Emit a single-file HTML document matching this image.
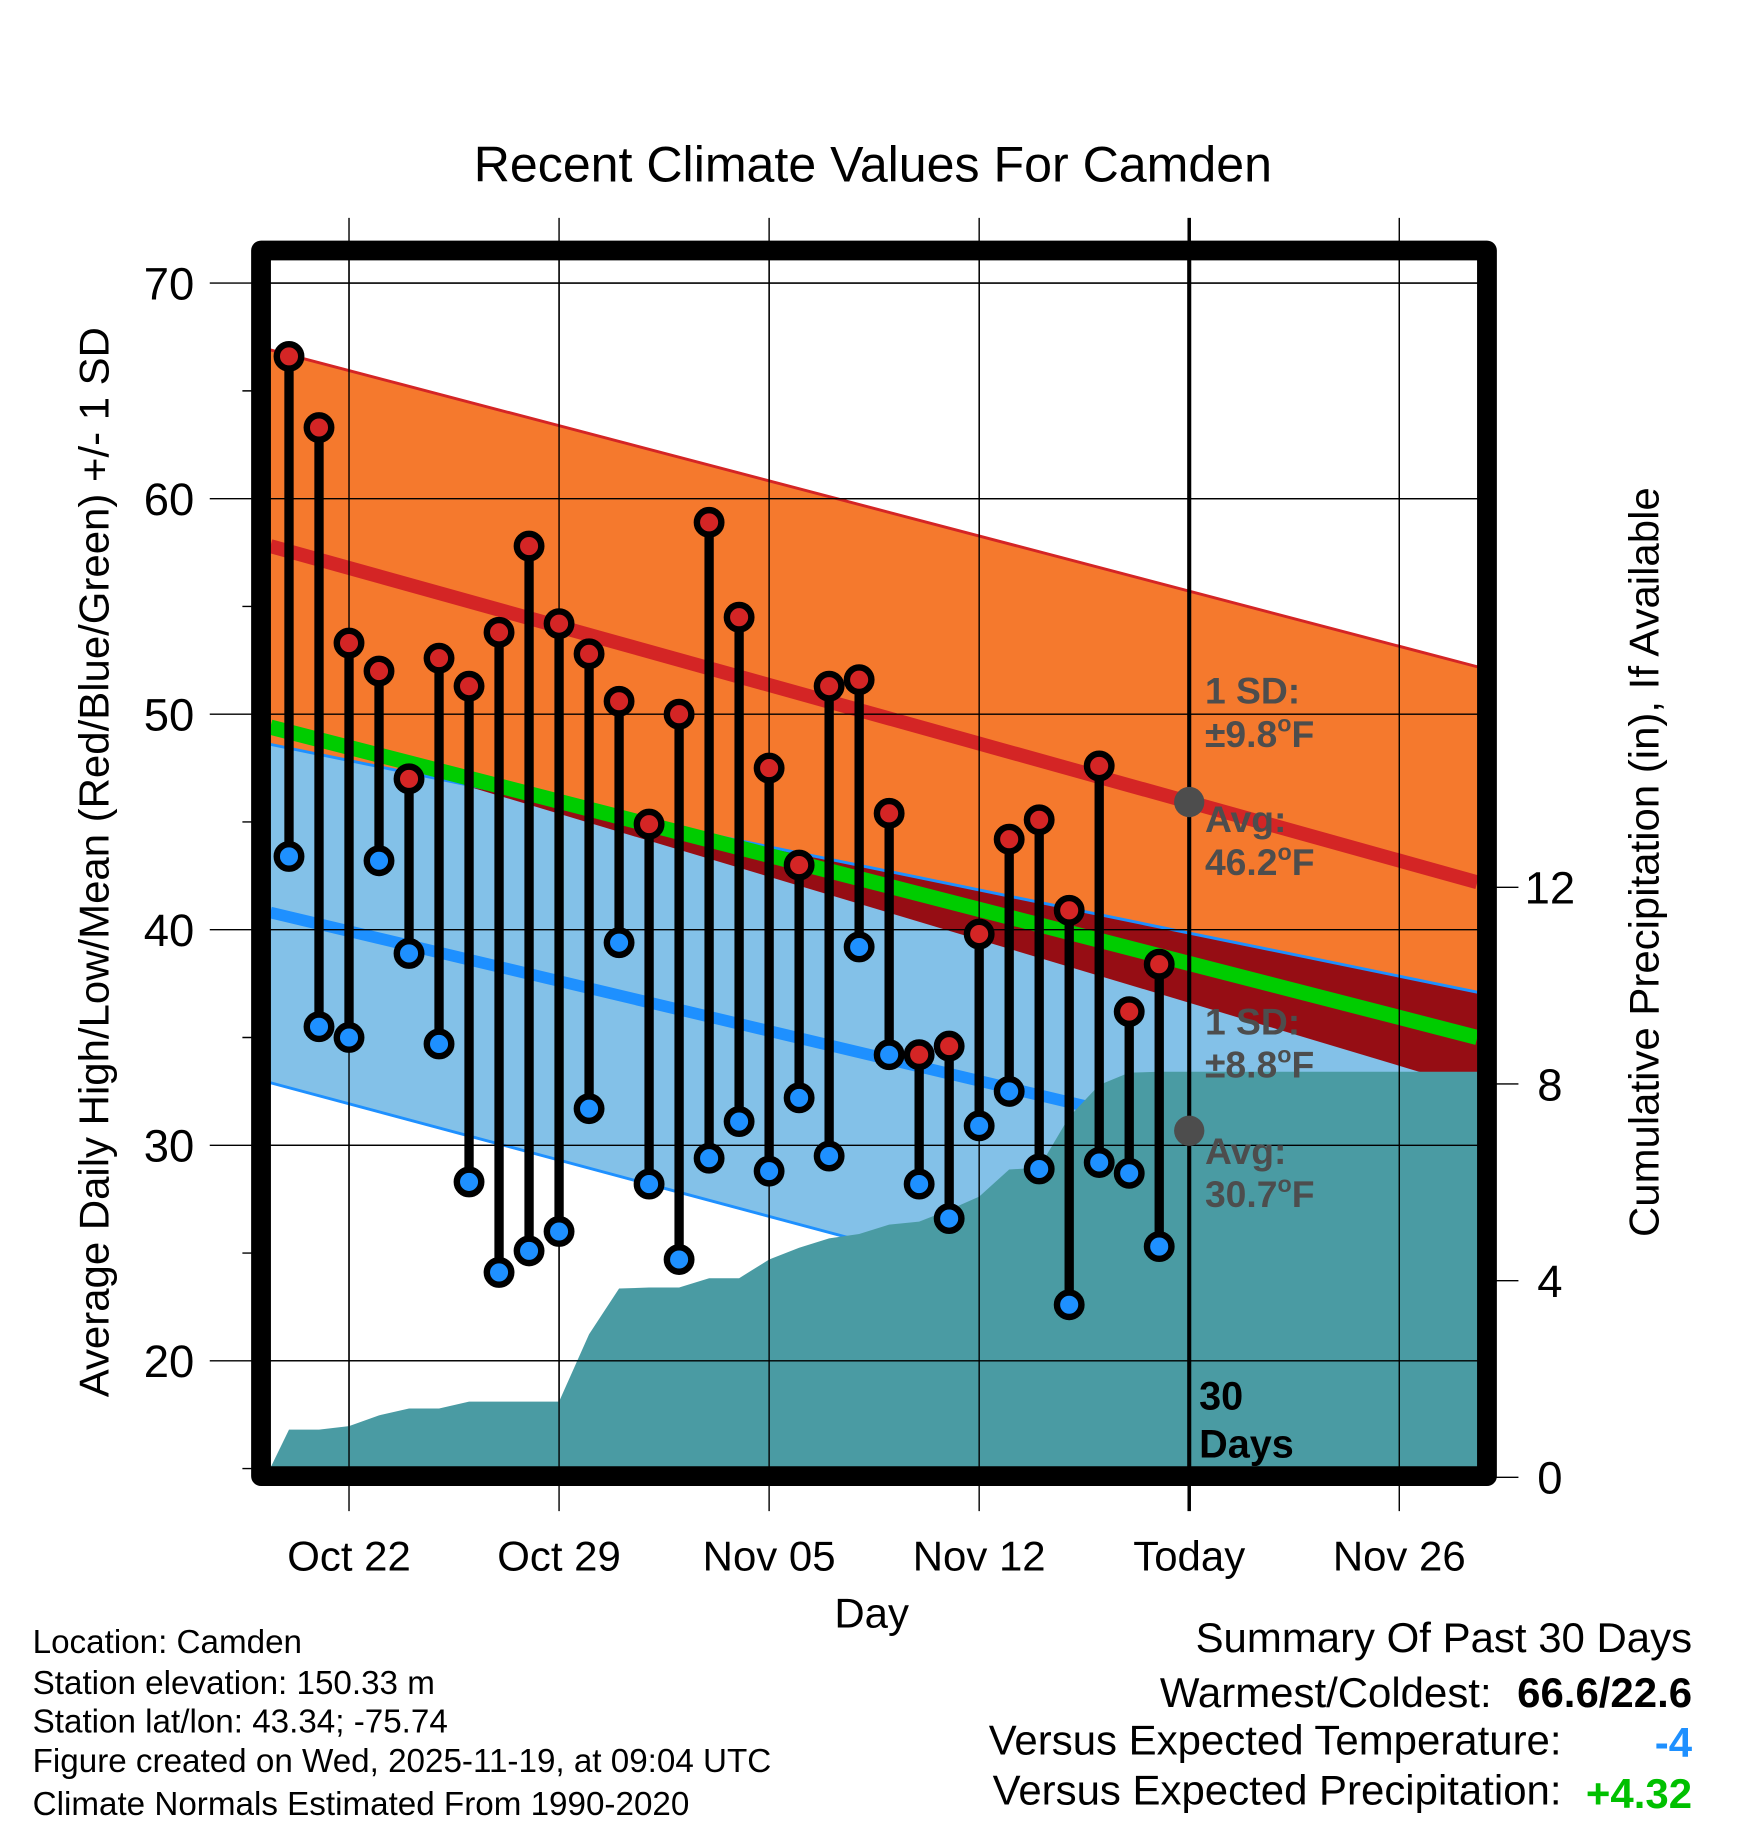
<!DOCTYPE html>
<html><head><meta charset="utf-8"><style>
html,body{margin:0;padding:0;background:#fff}
svg{display:block}
text{font-family:"Liberation Sans",sans-serif}
</style></head><body>
<svg id="chart" width="1748" height="1828" viewBox="0 0 1500 1569" preserveAspectRatio="none" xmlns="http://www.w3.org/2000/svg">
<defs><clipPath id="plotclip"><rect x="232" y="223" width="1036" height="1036"/></clipPath></defs>
<g id="grid"></g>
<g id="bands" clip-path="url(#plotclip)"></g>
<g id="gridover"></g>
<g id="marks"></g>
<g id="labels"></g>
</svg>
<script>
const dayLabels=["Oct 22","Oct 29","Nov 05","Nov 12","Today","Nov 26"];
const dayTicks=[2,9,16,23,30,37];
const yTicks=[20,30,40,50,60,70];
const pTicks=[0,4,8,12];
const highs=[66.6,63.3,53.3,52.0,47.0,52.6,51.3,53.8,57.8,54.2,52.8,50.6,44.9,50.0,58.9,54.5,47.5,43.0,51.3,51.6,45.4,34.2,34.6,39.8,44.2,45.1,40.9,47.6,36.2,38.4];
const lows=[43.4,35.5,35.0,43.2,38.9,34.7,28.3,24.1,25.1,26.0,31.7,39.4,28.2,24.7,29.4,31.1,28.8,32.2,29.5,39.2,34.2,28.2,26.6,30.9,32.5,28.9,22.6,29.2,28.7,25.3];
const precip=[0.97,0.97,1.04,1.26,1.40,1.40,1.54,1.54,1.54,1.54,2.91,3.84,3.86,3.86,4.05,4.05,4.43,4.67,4.86,4.95,5.14,5.20,5.44,5.71,6.26,6.30,7.33,7.98,8.23,8.25];
const normDays=[-0.62,39.6];
const avgHigh=[57.8,42.2];
const hiUpper=[66.9,52.2];
const hiLowerEdge=[49.4,32.6];
const avgLow=[40.8,27.5];
const loUpper=[48.6,37.1];
const loLower=[32.9,17.9];
const meanT=[49.4,35.0];

const NS="http://www.w3.org/2000/svg";
const X=d=>248+25.75*d;
const Y=v=>243+(70-v)*18.5;
const P=p=>Math.min(1259,1268-42.2*p);
function mk(parent,tag,attrs){const e=document.createElementNS(NS,tag);for(const k in attrs)e.setAttribute(k,attrs[k]);document.getElementById(parent).appendChild(e);return e;}
function lerp(arr,d){const t=(d-normDays[0])/(normDays[1]-normDays[0]);return arr[0]+(arr[1]-arr[0])*t;}
function line(arr){return normDays.map((d,i)=>X(d)+","+Y(arr[i])).join(" ");}

dayTicks.forEach((d,i)=>{
 let e=mk('grid','line',{x1:X(d),x2:X(d),y1:187,y2:1297,stroke:'#000','stroke-width':i==4?3:1.2});
 
});
yTicks.forEach(v=>{
 let e=mk('grid','line',{x1:180,x2:1268,y1:Y(v),y2:Y(v),stroke:'#000','stroke-width':1.2});
 
});
for(let v=15;v<=65;v+=10){let e=mk('grid','line',{x1:208,x2:222,y1:Y(v),y2:Y(v),stroke:'#000','stroke-width':1.2});}
pTicks.forEach(p=>{let e=mk('grid','line',{x1:1276,x2:1303,y1:1268-42.2*p,y2:1268-42.2*p,stroke:'#000','stroke-width':1.2});});

const d0=normDays[0],d1=normDays[1];
let e;
e=mk('bands','polygon',{points:`${X(d0)},${Y(hiUpper[0])} ${X(d1)},${Y(hiUpper[1])} ${X(d1)},${Y(loUpper[1])} ${X(d0)},${Y(loUpper[0])}`,fill:'#f5792d'});

e=mk('bands','polygon',{points:`${X(d0)},${Y(loUpper[0])} ${X(d1)},${Y(loUpper[1])} ${X(d1)},${Y(loLower[1])} ${X(d0)},${Y(loLower[0])}`,fill:'#83c1e8'});

const diff0=hiLowerEdge[0]-loUpper[0],diff1=hiLowerEdge[1]-loUpper[1];
const tc=diff0/(diff0-diff1);const dc=d0+(d1-d0)*tc;
e=mk('bands','polygon',{points:`${X(dc)},${Y(lerp(loUpper,dc))} ${X(d1)},${Y(loUpper[1])} ${X(d1)},${Y(hiLowerEdge[1])}`,fill:'#960d14'});

e=mk('bands','polyline',{points:line(hiUpper),stroke:'#d42525','stroke-width':2.5,fill:'none'});

e=mk('bands','polyline',{points:line(loUpper),stroke:'#1e90ff','stroke-width':2.5,fill:'none'});

e=mk('bands','polyline',{points:line(loLower),stroke:'#1e90ff','stroke-width':2.5,fill:'none'});

e=mk('bands','polyline',{points:line(meanT),stroke:'#00cc00','stroke-width':13,fill:'none'});

e=mk('bands','polyline',{points:line(avgHigh),stroke:'#d42525','stroke-width':12,fill:'none'});

e=mk('bands','polyline',{points:line(avgLow),stroke:'#1e90ff','stroke-width':10,fill:'none'});

let pts=`232,1260 `+precip.map((p,i)=>X(i)+","+P(p)).join(" ")+` 1268,${P(precip[precip.length-1])} 1268,1260`;
e=mk('bands','polygon',{points:pts,fill:'#4a9ba3'});


dayTicks.forEach((d,i)=>{if(i==4)return;let g=mk('gridover','line',{x1:X(d),x2:X(d),y1:223,y2:1259,stroke:'#000','stroke-width':1.2});});
yTicks.forEach(v=>{let g=mk('gridover','line',{x1:232,x2:1268,y1:Y(v),y2:Y(v),stroke:'#000','stroke-width':1.2});});
e=mk('gridover','line',{x1:X(30),x2:X(30),y1:223,y2:1262,stroke:'#000','stroke-width':3.5});


highs.forEach((h,i)=>{
 let s=mk('marks','line',{x1:X(i),x2:X(i),y1:Y(h),y2:Y(lows[i]),stroke:'#000','stroke-width':8});
 
});
highs.forEach((h,i)=>{
 let c=mk('marks','circle',{cx:X(i),cy:Y(h),r:10.5,fill:'#d42525',stroke:'#000','stroke-width':5.5});
 
 let c2=mk('marks','circle',{cx:X(i),cy:Y(lows[i]),r:10.5,fill:'#1e90ff',stroke:'#000','stroke-width':5.5});
 
});
e=mk('marks','circle',{cx:X(30),cy:Y(lerp(avgHigh,30)),r:13,fill:'#4d4d4d'});

e=mk('marks','circle',{cx:X(30),cy:Y(lerp(avgLow,30)),r:13,fill:'#4d4d4d'});

e=mk('marks','rect',{x:224,y:215,width:1052,height:1052,fill:'none',stroke:'#000','stroke-width':17,'stroke-linejoin':'round'});


function txt(x,y,s,attrs,name){const t=mk('labels','text',Object.assign({x:x,y:y},attrs));t.textContent=s;return t;}
yTicks.forEach(v=>txt(145,Y(v)+14,String(v),{'font-size':39,'text-anchor':'middle'},'y-tick-label'));
pTicks.forEach(p=>txt(1330,1268-42.2*p+14,String(p),{'font-size':39,'text-anchor':'middle'},'precip-tick-label'));
dayTicks.forEach((d,i)=>txt(X(d),1348,dayLabels[i],{'font-size':36,'text-anchor':'middle'},'x-tick-label'));
</script>
<script>
(function(){
const L=document.getElementById('labels');
L.insertAdjacentHTML('beforeend',`
<text x="749" y="156" font-size="43" text-anchor="middle">Recent Climate Values For Camden</text>
<text x="748" y="1397" font-size="36" text-anchor="middle">Day</text>
<text transform="translate(93,740) rotate(-90)" font-size="36" text-anchor="middle">Average Daily High/Low/Mean (Red/Blue/Green) +/- 1 SD</text>
<text transform="translate(1423,740) rotate(-90)" font-size="36" text-anchor="middle">Cumulative Precipitation (in), If Available</text>
<g font-size="32" font-weight="bold" fill="#4d4d4d">
<text x="1034" y="604">1 SD:</text><text x="1034" y="641">±9.8<tspan dy="-13" font-size="20">o</tspan><tspan dy="13">F</tspan></text>
<text x="1034" y="714">Avg:</text><text x="1034" y="751">46.2<tspan dy="-13" font-size="20">o</tspan><tspan dy="13">F</tspan></text>
</g>
<g font-size="32" font-weight="bold" fill="#4d4d4d">
<text x="1034" y="888">1 SD:</text><text x="1034" y="925">±8.8<tspan dy="-13" font-size="20">o</tspan><tspan dy="13">F</tspan></text>
<text x="1034" y="999">Avg:</text><text x="1034" y="1036">30.7<tspan dy="-13" font-size="20">o</tspan><tspan dy="13">F</tspan></text>
</g>
<g font-size="34" font-weight="bold" fill="#000">
<text x="1029" y="1210">30</text><text x="1029" y="1251">Days</text>
</g>
<g font-size="28.5" fill="#000">
<text x="28" y="1419">Location: Camden</text>
<text x="28" y="1454">Station elevation: 150.33 m</text>
<text x="28" y="1487">Station lat/lon: 43.34; -75.74</text>
<text x="28" y="1521">Figure created on Wed, 2025-11-19, at 09:04 UTC</text>
<text x="28" y="1558">Climate Normals Estimated From 1990-2020</text>
</g>
<g font-size="36" fill="#000">
<text x="1452" y="1418" text-anchor="end">Summary Of Past 30 Days</text>
<text x="1280" y="1465" text-anchor="end">Warmest/Coldest:</text>
<text x="1452" y="1465" text-anchor="end" font-weight="bold">66.6/22.6</text>
<text x="1340" y="1506" text-anchor="end">Versus Expected Temperature:</text>
<text x="1452" y="1508" text-anchor="end" font-weight="bold" fill="#1e90ff">-4</text>
<text x="1340" y="1549" text-anchor="end">Versus Expected Precipitation:</text>
<text x="1452" y="1552" text-anchor="end" font-weight="bold" fill="#00c000">+4.32</text>
</g>`);
})();
</script>
</body></html>
